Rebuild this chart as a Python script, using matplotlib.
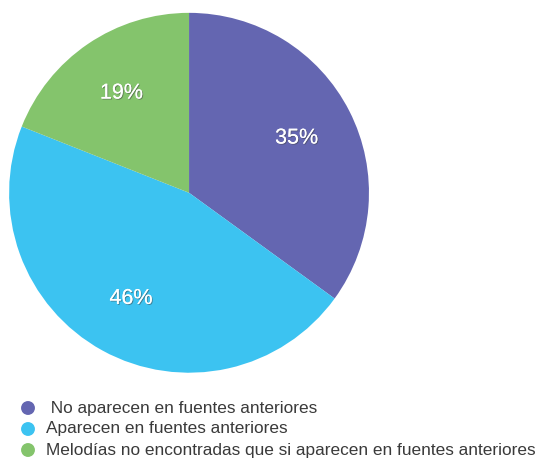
import matplotlib.pyplot as plt
import matplotlib.patheffects as pe

labels = [" No aparecen en fuentes anteriores",
          "Aparecen en fuentes anteriores",
          "Melodías no encontradas que si aparecen en fuentes anteriores"]
values = [35, 46, 19]
colors = ['#6466b1', '#3cc3f1', '#84c46c']

plt.rcParams['font.family'] = ['Liberation Sans', 'DejaVu Sans']

fig = plt.figure(figsize=(5.44, 4.59), dpi=100)
ax = fig.add_axes([0.0165, 0.188, 0.662, 0.784])

wedges, texts, autotexts = ax.pie(values, colors=colors, startangle=90, counterclock=False,
                                  autopct='%d%%', pctdistance=0.67, radius=1.0)
for t in autotexts:
    t.set_color('white')
    t.set_fontsize(15.5)
    t.set_path_effects([pe.withSimplePatchShadow(offset=(0.7, -0.7), shadow_rgbFace='#444444', alpha=0.5),
                        pe.Normal()])
ax.set_xlim(-1, 1)
ax.set_ylim(-1, 1)
ax.set_aspect('equal')

# legend drawn in a bottom axes
lax = fig.add_axes([0, 0, 1, 1])
lax.set_xlim(0, 544)
lax.set_ylim(459, 0)
lax.axis('off')
ys = [408, 429, 450]
for y, lab, c in zip(ys, labels, colors):
    lax.scatter([28], [y], s=100, color=c, edgecolors='none')
    lax.text(46, y, lab, va='center', ha='left', fontsize=12.4, color='#3a3a3a')

fig.savefig('out.png', dpi=100)
